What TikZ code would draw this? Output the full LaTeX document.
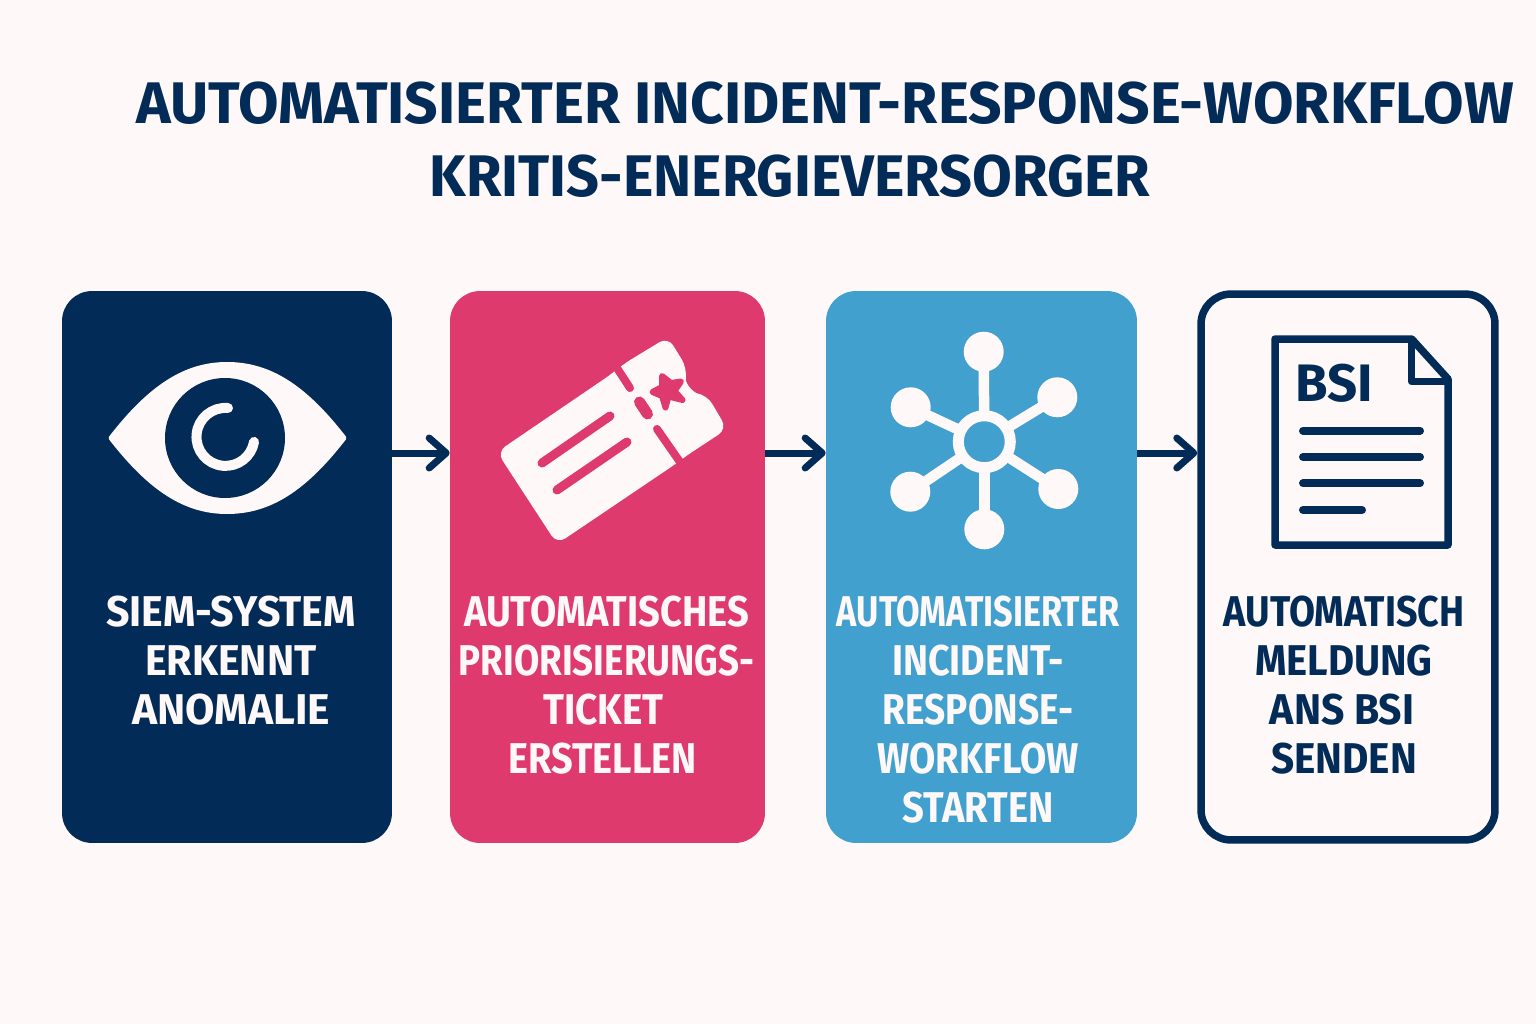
\documentclass[tikz,border=0pt]{standalone}
\usepackage{fontspec}
\usepackage{graphicx}
\setmainfont{Fira Sans}
\usetikzlibrary{arrows.meta}
\definecolor{navy}{HTML}{022B57}
\definecolor{rose}{HTML}{DE3A6E}
\definecolor{sky}{HTML}{42A0CF}
\definecolor{paper}{HTML}{FEF9F8}
\definecolor{icon}{HTML}{FEF9F8}
\newcommand{\narrowed}[2]{\scalebox{#1}[1]{#2}}
\tikzset{
	stepbox/.style={rectangle,rounded corners=0.6cm,inner sep=0,minimum width=#1,minimum height=11.04cm},
	steplabel/.style={align=center,inner sep=0,font=\bfseries\fontsize{24.5}{27.9}\selectfont},
	titleline/.style={inner sep=0,text=navy,font=\bfseries\fontsize{33.4}{38}\selectfont},
	flowarrow/.style={draw=navy,line width=0.14cm,-{Straight Barb[length=0.34cm,width=0.6cm,round]}},
	hubdot/.style={circle,fill=icon,inner sep=0,minimum size=0.8cm},
	hubspoke/.style={draw=icon,line width=0.21cm,shorten <=-0.06cm,shorten >=-0.06cm},
	textbar/.style={draw=navy,line width=0.16cm,line cap=round}
}
\begin{document}
\begin{tikzpicture}[x=0.02cm,y=-0.02cm]
	\fill[color=paper] (0,0) rectangle (1536,1024);
	\useasboundingbox (0,0) rectangle (1536,1024);
	% title
	\node[titleline] (titleA) at (825,103) {AUTOMATISIERTER INCIDENT-RESPONSE-WORKFLOW};
	\node[titleline] (titleB) at (790,176) {\narrowed{0.982}{KRITIS-ENERGIEVERSORGER}};
	% boxes
	\node[stepbox=6.6cm,fill=navy] (siem) at (227,567) {};
	\node[stepbox=6.3cm,fill=rose] (ticket) at (607.5,567) {};
	\node[stepbox=6.22cm,fill=sky] (workflow) at (981.5,567) {};
	\node[stepbox=5.88cm,draw=navy,fill=paper,line width=0.15cm,minimum height=10.92cm] (bsi) at (1348,567) {};
	% arrows
	\coordinate (level) at (0,453);
	\draw[flowarrow] (siem.east |- level) -- (ticket.west |- level);
	\draw[flowarrow] (ticket.east |- level) -- (workflow.west |- level);
	\draw[flowarrow] (workflow.east |- level) -- (bsi.west |- level);
	% labels
	\node[steplabel,text=icon] (siemtext) at (231,661) {\narrowed{0.955}{SIEM-SYSTEM}\\\narrowed{0.955}{ERKENNT}\\\narrowed{0.99}{ANOMALIE}};
	\node[steplabel,text=icon] (tickettext) at (606.5,685) {\narrowed{0.885}{AUTOMATISCHES}\\\narrowed{0.853}{PRIORISIERUNGS-}\\\narrowed{0.9}{TICKET}\kern0.12cm\\\narrowed{0.88}{ERSTELLEN}\kern0.16cm};
	\node[steplabel,text=icon] (workflowtext) at (978,710) {\narrowed{0.795}{AUTOMATISIERTER}\\\narrowed{0.875}{INCIDENT-}\\\narrowed{0.86}{RESPONSE-}\\\narrowed{0.885}{WORKFLOW}\\\narrowed{0.887}{STARTEN}};
	\node[steplabel,text=navy] (bsitext) at (1344,685) {\narrowed{0.875}{AUTOMATISCH}\\\narrowed{0.93}{MELDUNG}\\\narrowed{0.95}{ANS BSI}\kern0.08cm\\\narrowed{0.94}{SENDEN}};
	% eye
	\filldraw[color=icon,line width=0.08cm,line join=round] (110.5,438) .. controls (150,387) and (185,364) .. (227,364) .. controls (270,364) and (305,387) .. (344.5,438) .. controls (305,489) and (270,512) .. (227,512) .. controls (185,512) and (150,489) .. (110.5,438) -- cycle;
	\fill[color=navy] (225,438) circle[radius=60];
	\draw[color=icon,line width=0.2cm,line cap=round] (228,408) arc[radius=29,start angle=-85,end angle=-350];
	% ticket
	\fill[color=icon,rounded corners=0.2cm] (613,373) -- (497,452) -- (557,544) -- (677,463) -- (683,458) -- (727,429) -- (707,395) .. controls (695,393) and (685,385) .. (687,368) -- (668,337) -- (622,365) -- cycle;
	\draw[color=rose,line width=0.18cm,line cap=round] (542,463) -- (610,416);
	\draw[color=rose,line width=0.18cm,line cap=round] (557,490) -- (627,442);
	\draw[color=rose,line width=0.16cm,line cap=round] (617,368) -- (630,388);
	\draw[color=rose,line width=0.22cm,line cap=round] (639.5,402) -- (647.5,414);
	\draw[color=rose,line width=0.16cm,line cap=round] (657,429) -- (680,462);
	\filldraw[color=rose,line width=0.12cm,line join=round] (662,376) -- (671,383) -- (681,381.5) -- (674.5,391) -- (682.5,400) -- (668.5,396.5) -- (665.5,407.5) -- (662,396) -- (652.5,392) -- (662,387) -- cycle;
	% hub
	\node[circle,draw=icon,line width=0.22cm,inner sep=0,minimum size=1.04cm] (hub) at (984.3,441.7) {};
	\foreach \dotname/\dotx/\doty in {dotA/983.7/351.7,dotB/1057.3/397.3,dotC/1058.3/489,dotD/984.3/529.3,dotE/910.3/491.7,dotF/910.7/407.3}
	{
		\node[hubdot] (\dotname) at (\dotx,\doty) {};
		\draw[hubspoke] (hub) -- (\dotname);
	}
	% document
	\draw[color=navy,line width=0.15cm,line join=round] (1275,339) -- (1411.7,339) -- (1448,379) -- (1448,545) -- (1275,545) -- cycle;
	\draw[color=navy,line width=0.15cm,line join=round] (1411.7,339) -- (1411.7,381.5) -- (1448,381.5);
	\node[inner sep=0,text=navy,font=\bfseries\fontsize{30}{34}\selectfont] (bsimark) at (1334,383) {BSI};
	\foreach \bary/\barend in {430.7/1420,457/1420,483.3/1420,510/1362}
		\draw[textbar] (1303,\bary) -- (\barend,\bary);
\end{tikzpicture}
\end{document}
